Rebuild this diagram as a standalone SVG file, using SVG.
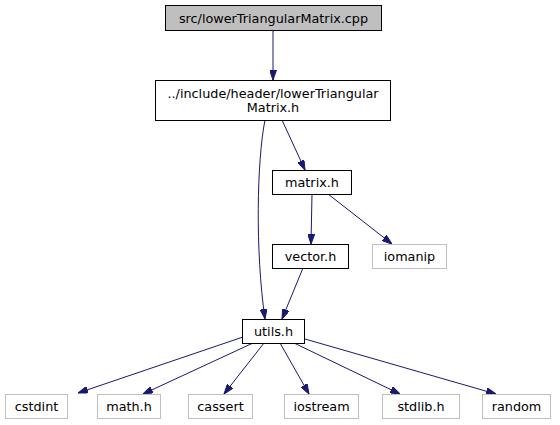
<svg xmlns="http://www.w3.org/2000/svg" width="560" height="425" viewBox="0 0 560 425">
<defs>
<marker id="ah" viewBox="0 0 10 7" refX="10" refY="3.5" markerWidth="10" markerHeight="7" markerUnits="userSpaceOnUse" orient="auto">
<path d="M0,0 L10,3.5 L0,7 Z" fill="#191970" stroke="#191970"/>
</marker>
<style>
text{font-family:"DejaVu Sans",sans-serif;font-size:12.8px;fill:#000;text-anchor:middle}
.n rect{fill:#fff;stroke:#000;stroke-width:1}
.g rect{fill:#fff;stroke:#bfbfbf;stroke-width:1}
.e path{fill:none;stroke:#191970;stroke-width:1;marker-end:url(#ah)}
</style>
</defs>
<rect width="560" height="425" fill="#fff"/>
<g class="e" id="edges">
<path d="M273,30 L273,80"/>
<path d="M282,120 L305,170"/>
<path d="M265,120 C257,160 255,250 265,319"/>
<path d="M312,194 L311,244"/>
<path d="M328,194 L392,244"/>
<path d="M303,268 L282,319"/>
<path d="M243,337 L78,393"/>
<path d="M253,343 L143,394"/>
<path d="M264,343 L224,394"/>
<path d="M280,343 L309,394"/>
<path d="M294,343 L400,394"/>
<path d="M305,339 L496,394"/>
</g>
<g id="node1"><rect x="165.5" y="5.5" width="216" height="25" fill="#bfbfbf" stroke="#000"/><text x="273.5" y="23">src/lowerTriangularMatrix.cpp</text></g>
<g id="node2" class="n"><rect x="155.5" y="80.5" width="235" height="40"/><text x="273" y="97.5">../include/header/lowerTriangular</text><text x="273" y="112">Matrix.h</text></g>
<g id="node3" class="n"><rect x="272.5" y="170.5" width="79" height="24"/><text x="312" y="187">matrix.h</text></g>
<g id="node4" class="n"><rect x="272.5" y="244.5" width="76" height="24"/><text x="310.5" y="261">vector.h</text></g>
<g id="node5" class="g"><rect x="372.5" y="244.5" width="74" height="24"/><text x="409.5" y="261">iomanip</text></g>
<g id="node6" class="n"><rect x="242.5" y="319.5" width="62" height="24"/><text x="273.5" y="336">utils.h</text></g>
<g id="node7" class="g"><rect x="5.5" y="394.5" width="62" height="24"/><text x="36.5" y="411">cstdint</text></g>
<g id="node8" class="g"><rect x="97.5" y="394.5" width="63" height="24"/><text x="129" y="411">math.h</text></g>
<g id="node9" class="g"><rect x="188.5" y="394.5" width="64" height="24"/><text x="220.5" y="411">cassert</text></g>
<g id="node10" class="g"><rect x="284.5" y="394.5" width="74" height="24"/><text x="321.5" y="411">iostream</text></g>
<g id="node11" class="g"><rect x="382.5" y="394.5" width="77" height="24"/><text x="421" y="411">stdlib.h</text></g>
<g id="node12" class="g"><rect x="482.5" y="394.5" width="68" height="24"/><text x="516.5" y="411">random</text></g>
</svg>
